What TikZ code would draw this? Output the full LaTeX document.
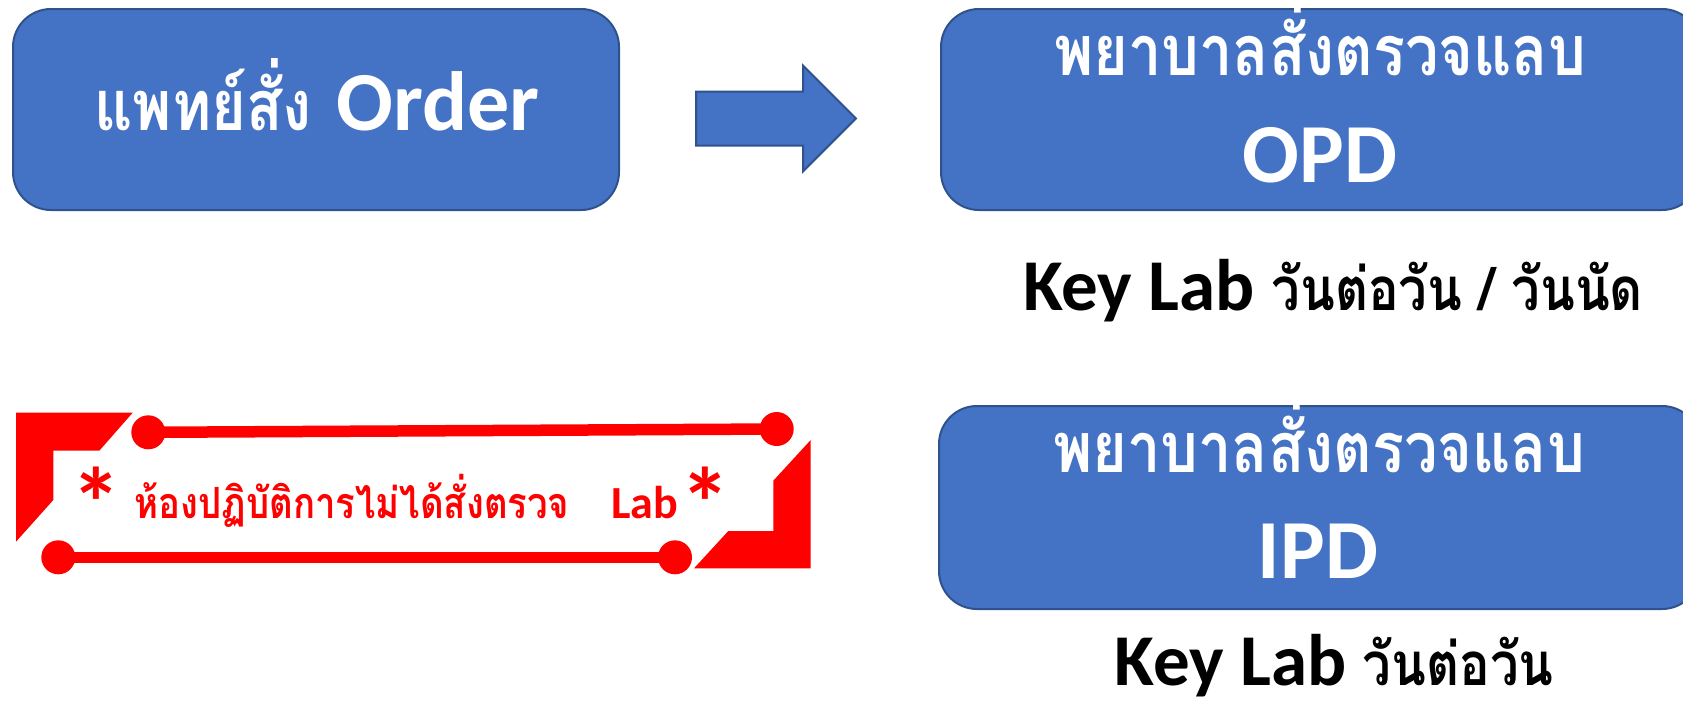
\documentclass[tikz,border=0pt]{standalone}
\usepackage{fontspec}
\setmainfont{Carlito}
\newfontfamily\thaifont[Script=Thai, FakeStretch=0.85]{Loma}
\usepackage{xcolor}
\usetikzlibrary{shapes.arrows}

\definecolor{boxblue}{HTML}{4472C4}
\definecolor{boxedge}{HTML}{2F528F}
\definecolor{alertred}{HTML}{FF0000}

\begin{document}
\begin{tikzpicture}[
    x=1pt, y=-1pt,
    box/.style={rectangle, rounded corners=38pt, draw=boxedge, line width=2pt, fill=boxblue,
      minimum width=#1, minimum height=201pt, inner sep=0pt},
    boxtext/.style={text=white, font=\bfseries, inner sep=0pt, anchor=base},
    keytext/.style={text=black, font=\bfseries, inner sep=0pt, anchor=base},
    redtext/.style={text=alertred, font=\bfseries, inner sep=0pt},
    redbar/.style={alertred, line width=11.5pt}
  ]
    \clip (0,0) rectangle (1683,705);

    % doctor's order
    \node[box=606pt] (order) at (316,109.5) {};
    \node[boxtext] (ordertext) at (317,130)
      {{\thaifont\fontsize{70}{70}\selectfont แพทย์สั่ง}\hspace{25pt}{\fontsize{84}{84}\selectfont Order}};

    \node[single arrow, draw=boxedge, fill=boxblue, line width=2pt, minimum height=160pt,
      inner xsep=0pt, inner ysep=26pt, text height=0pt, text depth=0pt,
      single arrow head extend=26pt, anchor=tail] (arr) at (695,118.5) {};

    % OPD
    \node[box=759pt] (opd) at (1320.5,109.5) {};
    \node[boxtext] (opdthai) at (1320,75) {\thaifont\fontsize{70}{70}\selectfont พยาบาลสั่งตรวจแลบ};
    \node[boxtext] (opdname) at (1320,182) {\fontsize{84}{84}\selectfont OPD};
    \node[keytext] (opdkey) at (1333,310)
      {\fontsize{73}{73}\selectfont Key Lab {\thaifont\fontsize{60}{60}\selectfont วันต่อวัน / วันนัด}};

    % IPD
    \node[box=761pt, minimum height=203pt] (ipd) at (1319.5,507.5) {};
    \node[boxtext] (ipdthai) at (1319,472) {\thaifont\fontsize{70}{70}\selectfont พยาบาลสั่งตรวจแลบ};
    \node[boxtext] (ipdname) at (1318,578) {\fontsize{84}{84}\selectfont IPD};
    \node[keytext] (ipdkey) at (1334,685)
      {\fontsize{73}{73}\selectfont Key Lab {\thaifont\fontsize{60}{60}\selectfont วันต่อวัน}};

    % red notice frame
    \fill[alertred] (16,412.7) -- (132.7,412.7) -- (99.3,450.7) -- (53.3,450.7)
      -- (53.3,500) -- (16,541.7) -- cycle;
    \fill[alertred] (810.7,440) -- (810.7,568.3) -- (694,568.3) -- (728.3,531)
      -- (773.3,531) -- (773.3,480.7) -- cycle;
    \coordinate (dotA) at (148.3,432.3);
    \coordinate (dotB) at (776.7,429);
    \coordinate (dotC) at (58.3,557.3);
    \coordinate (dotD) at (675,557.3);
    \draw[redbar] (dotA) -- (dotB);
    \draw[redbar] (dotC) -- (dotD);
    \foreach \d in {dotA,dotB,dotC,dotD}
      \fill[alertred] (\d) circle[radius=17pt];

    \node[redtext, anchor=north] (starL) at (96.7,467) {\fontsize{100}{100}\selectfont *};
    \node[redtext, anchor=north] (starR) at (705,467) {\fontsize{100}{100}\selectfont *};
    \node[redtext, anchor=base] (notice) at (352,518)
      {\thaifont\fontsize{43}{43}\selectfont ห้องปฏิบัติการไม่ได้สั่งตรวจ};
    \node[redtext, anchor=base west] (noticelab) at (611,518) {\fontsize{46}{46}\selectfont Lab};
\end{tikzpicture}
\end{document}
